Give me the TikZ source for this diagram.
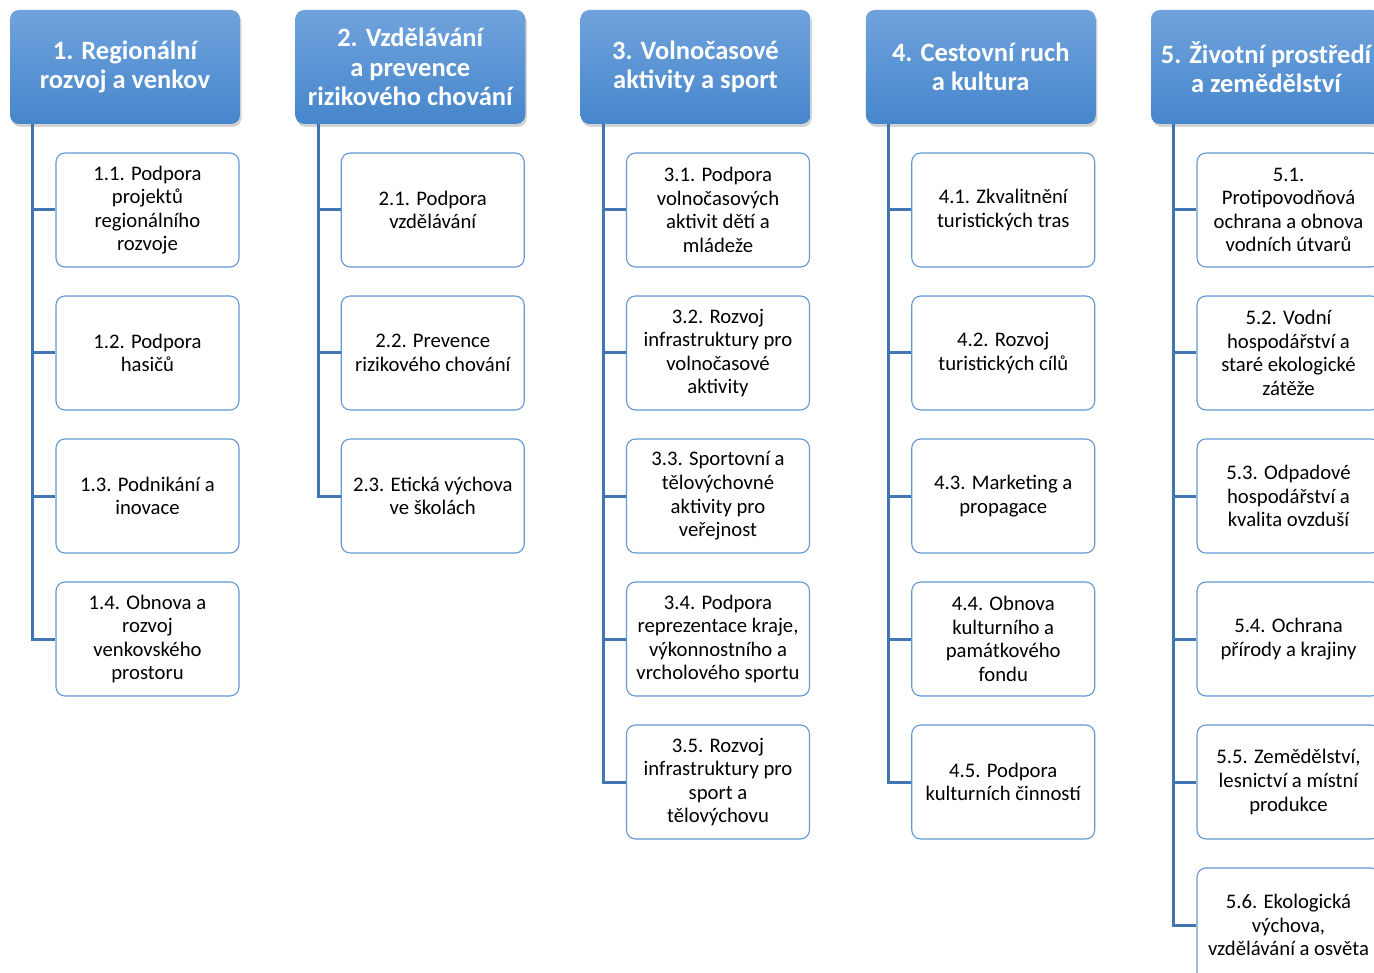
\documentclass[tikz,border=0pt]{standalone}
\usepackage{fontspec}
\setmainfont{Carlito}
\usetikzlibrary{positioning,shadows}
\definecolor{headtop}{RGB}{112,163,220}
\definecolor{headbot}{RGB}{70,134,204}
\definecolor{boxline}{RGB}{98,152,214}
\definecolor{connline}{RGB}{66,118,178}

\begin{document}
\begin{tikzpicture}[x=1pt, y=-1pt, node distance=143pt, on grid,
  head/.style={rectangle, rounded corners=9pt, minimum width=230pt, minimum height=114pt,
    top color=headtop, bottom color=headbot, draw=none, text=white, align=center,
    font=\fontsize{26.5}{29.5}\selectfont\bfseries,
    drop shadow={opacity=0.35, shadow xshift=1.5pt, shadow yshift=-3pt}},
  box/.style={rectangle, rounded corners=9pt, minimum width=183pt, minimum height=114pt,
    draw=boxline, line width=1.1pt, fill=white, align=center,
    font=\fontsize{20.7}{23.6}\selectfont},
  conn/.style={draw=connline, line width=3pt}]
\useasboundingbox (0,0) rectangle (1374,973);
\clip (0,0) rectangle (1374,973);
% headers
\node[head](h_1) at (125,67){1. Regionální\\rozvoj a venkov};
\node[head](h_2) [right=285.25pt of h_1]{2. Vzdělávání\\a prevence\\rizikového chování};
\node[head](h_3) [right=285.25pt of h_2]{3. Volnočasové\\aktivity a sport};
\node[head](h_4) [right=285.25pt of h_3]{4. Cestovní ruch\\a kultura};
\node[head](h_5) [right=285.25pt of h_4]{5. Životní prostředí\\a zemědělství};
% column 1
\node[box](c_11) [below=of h_1, xshift=22.5pt]{1.1. Podpora\\projektů\\regionálního\\rozvoje};
\node[box](c_12) [below=of c_11]{1.2. Podpora\\hasičů};
\node[box](c_13) [below=of c_12]{1.3. Podnikání a\\inovace};
\node[box](c_14) [below=of c_13]{1.4. Obnova a\\rozvoj\\venkovského\\prostoru};
% column 2
\node[box](c_21) [below=of h_2, xshift=22.5pt]{2.1. Podpora\\vzdělávání};
\node[box](c_22) [below=of c_21]{2.2. Prevence\\rizikového chování};
\node[box](c_23) [below=of c_22]{2.3. Etická výchova\\ve školách};
% column 3
\node[box](c_31) [below=of h_3, xshift=22.5pt]{3.1. Podpora\\volnočasových\\aktivit dětí a\\mládeže};
\node[box](c_32) [below=of c_31]{3.2. Rozvoj\\infrastruktury pro\\volnočasové\\aktivity};
\node[box](c_33) [below=of c_32]{3.3. Sportovní a\\tělovýchovné\\aktivity pro\\veřejnost};
\node[box](c_34) [below=of c_33]{3.4. Podpora\\reprezentace kraje,\\výkonnostního a\\vrcholového sportu};
\node[box](c_35) [below=of c_34]{3.5. Rozvoj\\infrastruktury pro\\sport a\\tělovýchovu};
% column 4
\node[box](c_41) [below=of h_4, xshift=22.5pt]{4.1. Zkvalitnění\\turistických tras};
\node[box](c_42) [below=of c_41]{4.2. Rozvoj\\turistických cílů};
\node[box](c_43) [below=of c_42]{4.3. Marketing a\\propagace};
\node[box](c_44) [below=of c_43]{4.4. Obnova\\kulturního a\\památkového\\fondu};
\node[box](c_45) [below=of c_44]{4.5. Podpora\\kulturních činností};
% column 5
\node[box](c_51) [below=of h_5, xshift=22.5pt]{5.1.\\Protipovodňová\\ochrana a obnova\\vodních útvarů};
\node[box](c_52) [below=of c_51]{5.2. Vodní\\hospodářství a\\staré ekologické\\zátěže};
\node[box](c_53) [below=of c_52]{5.3. Odpadové\\hospodářství a\\kvalita ovzduší};
\node[box](c_54) [below=of c_53]{5.4. Ochrana\\přírody a krajiny};
\node[box](c_55) [below=of c_54]{5.5. Zemědělství,\\lesnictví a místní\\produkce};
\node[box](c_56) [below=of c_55]{5.6. Ekologická\\výchova,\\vzdělávání a osvěta};
% connectors
\foreach \c/\n in {1/4,2/3,3/5,4/5,5/6}{
  \foreach \r in {1,...,\n}{
    \draw[conn] ([xshift=23pt]h_\c.south west) |- (c_\c\r.west);
  }
}
\end{tikzpicture}
\end{document}
